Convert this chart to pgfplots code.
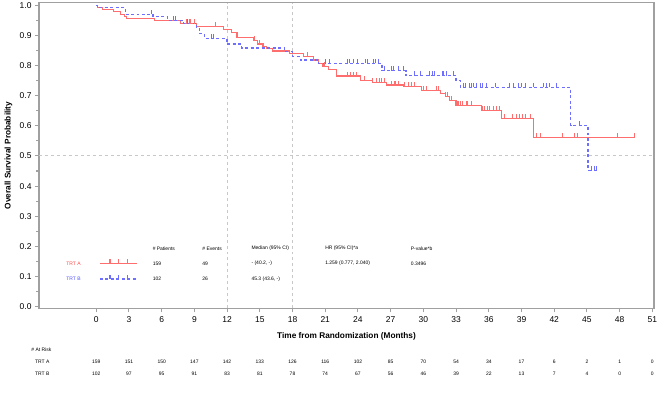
\documentclass[border=0pt]{standalone}
\usepackage{pgfplots}
\pgfplotsset{compat=1.18}
\usepackage{fontspec}
\setmainfont{Liberation Sans}
\definecolor{kmred}{RGB}{255,110,110}
\definecolor{kmblue}{RGB}{110,110,255}
\definecolor{txtred}{RGB}{255,70,70}
\definecolor{txtblue}{RGB}{80,80,255}
\definecolor{framegray}{RGB}{160,160,160}
\definecolor{refgray}{RGB}{200,200,200}
\pgfdeclareplotmark{cens}{\pgfpathmoveto{\pgfpoint{0pt}{0pt}}\pgfpathlineto{\pgfpoint{0pt}{4.5pt}}\pgfusepathqstroke}
\newcommand{\tinyf}{\fontsize{5}{6}\selectfont}
\begin{document}
\begin{tikzpicture}
\begin{axis}[
  scale only axis,
  width=615bp, height=305.6bp,
  xmin=-5.25, xmax=51.15,
  ymin=-0.005, ymax=1.008,
  clip=false,
  axis line style={framegray, line width=1.1pt},
  xtick={0,3,...,51},
  ytick={0,0.1,...,1.0},
  minor y tick num=1,
  xtick pos=bottom, ytick pos=left,
  tick align=outside,
  major tick length=4bp, minor tick length=2.5bp,
  tick style={framegray, line width=1.1pt},
  /pgf/number format/assume math mode=true,
  yticklabel style={/pgf/number format/fixed, /pgf/number format/fixed zerofill, /pgf/number format/precision=1},
  ticklabel style={font=\fontsize{8.5}{10}\selectfont, text=black},
  xticklabel style={yshift=-1bp},
  xlabel={Time from Randomization (Months)},
  ylabel={Overall Survival Probability},
  xlabel style={at={(axis description cs:0.5,-0.093)}, anchor=center, font=\fontsize{8.3}{10}\selectfont\bfseries},
  ylabel style={at={(axis description cs:-0.0496,0.5)}, anchor=center, font=\fontsize{8.3}{10}\selectfont\bfseries},
]
% reference lines
\addplot[draw=refgray, line width=1.1pt, dash pattern=on 3pt off 3pt] coordinates {(12,-0.005) (12,1.008)};
\addplot[draw=refgray, line width=1.1pt, dash pattern=on 3pt off 3pt] coordinates {(18,-0.005) (18,1.008)};
\addplot[draw=refgray, line width=1.1pt, dash pattern=on 3pt off 3pt] coordinates {(-5.25,0.5) (51.15,0.5)};
% TRT A
\addplot[draw=kmred, line width=1.2pt, const plot, mark=none, solid] coordinates {
(0,1.0)(0.15,0.993)(0.6,0.986)(1.55,0.978)(2.2,0.970)(2.6,0.961)(2.8,0.956)(5.35,0.948)(7.7,0.939)(9.2,0.930)(11.65,0.920)(12.4,0.909)(12.9,0.893)(14.4,0.883)(14.8,0.871)(15.3,0.862)(15.6,0.855)(16.2,0.848)(17.7,0.840)(19.0,0.830)(19.9,0.818)(20.4,0.806)(20.8,0.796)(21.3,0.787)(22.05,0.765)(24.2,0.749)(25.3,0.743)(26.6,0.735)(28.2,0.729)(29.8,0.718)(31.6,0.707)(32.0,0.696)(32.4,0.685)(33.0,0.667)(35.3,0.650)(37.2,0.623)(40.1,0.561)(49.4,0.561)};
\addplot[draw=kmred, line width=1.05pt, only marks, mark=cens] coordinates {
(8.3,0.939)(8.6,0.939)(9.0,0.939)(10.9,0.930)(14.5,0.883)(15.0,0.871)(19.4,0.830)(20.9,0.796)
(23.0,0.765)(23.3,0.765)(23.6,0.765)(23.9,0.765)(24.6,0.749)(25.35,0.743)(25.7,0.743)(25.95,0.743)(26.2,0.743)(26.45,0.743)(27.1,0.735)(27.4,0.735)(27.7,0.735)(28.3,0.729)(28.6,0.729)(28.9,0.729)(29.2,0.729)(30.0,0.718)(30.3,0.718)(31.2,0.718)(31.4,0.718)(32.05,0.696)(32.2,0.696)(32.6,0.685)(33.1,0.667)(33.25,0.667)(33.4,0.667)(33.6,0.667)(34.0,0.667)(34.4,0.667)(35.4,0.650)(35.6,0.650)(35.85,0.650)(36.1,0.650)(36.4,0.650)(36.7,0.650)(37.0,0.650)(37.4,0.623)(38.2,0.623)(38.5,0.623)(38.8,0.623)(39.1,0.623)(39.4,0.623)(39.8,0.623)(40.4,0.561)(40.7,0.561)(42.8,0.561)(43.9,0.561)(44.1,0.561)(47.8,0.561)(49.4,0.561)};
% TRT B
\addplot[draw=kmblue, line width=1.2pt, const plot, mark=none, dash pattern=on 3pt off 2.5pt] coordinates {
(0,1.0)(0.1,0.992)(2.65,0.970)(5.2,0.961)(6.5,0.950)(8.0,0.939)(9.2,0.923)(9.5,0.906)(9.9,0.890)(12.0,0.871)(13.3,0.858)(17.3,0.845)(18.0,0.829)(18.7,0.818)(20.4,0.807)(26.2,0.783)(28.4,0.766)(33.0,0.749)(33.4,0.727)(43.5,0.602)(45.1,0.451)(45.9,0.451)};
\addplot[draw=kmblue, line width=1.05pt, only marks, mark=cens] coordinates {
(5.1,0.970)(7.06,0.950)(7.25,0.950)(8.4,0.939)(10.6,0.890)(10.75,0.890)(21.0,0.807)(21.4,0.807)(23.0,0.807)(23.2,0.807)(23.6,0.807)(24.0,0.807)(24.7,0.807)(24.9,0.807)(25.4,0.807)(25.6,0.807)(25.9,0.807)(26.4,0.783)(27.1,0.783)(27.3,0.783)(27.7,0.783)(28.2,0.783)(29.2,0.766)(29.7,0.766)(30.6,0.766)(30.8,0.766)(31.0,0.766)(31.8,0.766)(32.1,0.766)(32.8,0.766)(33.7,0.727)(33.9,0.727)(34.2,0.727)(34.4,0.727)(34.6,0.727)(34.9,0.727)(35.2,0.727)(35.4,0.727)(35.8,0.727)(36.6,0.727)(37.9,0.727)(38.3,0.727)(38.7,0.727)(39.0,0.727)(39.4,0.727)(40.1,0.727)(41.0,0.727)(41.3,0.727)(41.6,0.727)(42.2,0.727)(44.3,0.602)(45.4,0.451)(45.7,0.451)(45.9,0.451)};
% legend samples
\addplot[draw=kmred, line width=1.2pt, mark=none, solid] coordinates {(0.34,0.1438) (3.76,0.1438)};
\addplot[draw=kmred, line width=1.05pt, only marks, mark=cens] coordinates {(1.26,0.1438)(2.02,0.1438)(2.88,0.1438)};
\addplot[draw=kmblue, line width=1.2pt, mark=none, dash pattern=on 3pt off 2.5pt] coordinates {(0.34,0.0918) (3.76,0.0918)};
\addplot[draw=kmblue, line width=1.05pt, only marks, mark=cens] coordinates {(1.26,0.0918)(2.02,0.0918)(2.88,0.0918)};
% stats table
\node[anchor=west, font=\tinyf] at (axis cs:4.86,0.1936) {\# Patients};
\node[anchor=west, font=\tinyf] at (axis cs:9.42,0.1936) {\# Events};
\node[anchor=west, font=\tinyf] at (axis cs:13.92,0.1936) {Median (95\% CI)};
\node[anchor=west, font=\tinyf] at (axis cs:20.68,0.1936) {HR (95\% CI)*a};
\node[anchor=west, font=\tinyf] at (axis cs:28.53,0.1936) {P-value*b};
\node[anchor=west, font=\tinyf, text=txtred] at (axis cs:-3.06,0.1438) {TRT A};
\node[anchor=west, font=\tinyf] at (axis cs:4.86,0.1438) {159};
\node[anchor=west, font=\tinyf] at (axis cs:9.42,0.1438) {49};
\node[anchor=west, font=\tinyf] at (axis cs:13.92,0.1438) {- (40.2, -)};
\node[anchor=west, font=\tinyf] at (axis cs:20.68,0.1438) {1.259 (0.777, 2.040)};
\node[anchor=west, font=\tinyf] at (axis cs:28.53,0.1438) {0.3496};
\node[anchor=west, font=\tinyf, text=txtblue] at (axis cs:-3.06,0.0918) {TRT B};
\node[anchor=west, font=\tinyf] at (axis cs:4.86,0.0918) {102};
\node[anchor=west, font=\tinyf] at (axis cs:9.42,0.0918) {26};
\node[anchor=west, font=\tinyf] at (axis cs:13.92,0.0918) {45.3 (43.6, -)};
% at risk table
\node[anchor=west, font=\tinyf] at (axis cs:-6.27,-0.1435) {\# At Risk};
\node[anchor=west, font=\tinyf] at (axis cs:-5.93,-0.1823) {TRT A};
\node[anchor=west, font=\tinyf] at (axis cs:-5.93,-0.2221) {TRT B};
\addplot[draw=none, mark=none, nodes near coords, point meta=explicit symbolic,
  every node near coord/.style={anchor=center, font=\tinyf, text=black}] coordinates {
(0,-0.1823)[159] (3,-0.1823)[151] (6,-0.1823)[150] (9,-0.1823)[147] (12,-0.1823)[142] (15,-0.1823)[133] (18,-0.1823)[126] (21,-0.1823)[116] (24,-0.1823)[102] (27,-0.1823)[85] (30,-0.1823)[70] (33,-0.1823)[54] (36,-0.1823)[34] (39,-0.1823)[17] (42,-0.1823)[6] (45,-0.1823)[2] (48,-0.1823)[1] (51,-0.1823)[0]};
\addplot[draw=none, mark=none, nodes near coords, point meta=explicit symbolic,
  every node near coord/.style={anchor=center, font=\tinyf, text=black}] coordinates {
(0,-0.2221)[102] (3,-0.2221)[97] (6,-0.2221)[95] (9,-0.2221)[91] (12,-0.2221)[83] (15,-0.2221)[81] (18,-0.2221)[78] (21,-0.2221)[74] (24,-0.2221)[67] (27,-0.2221)[56] (30,-0.2221)[46] (33,-0.2221)[39] (36,-0.2221)[22] (39,-0.2221)[13] (42,-0.2221)[7] (45,-0.2221)[4] (48,-0.2221)[0] (51,-0.2221)[0]};
\coordinate (bbl) at (rel axis cs:-0.0634,-0.2902);
\coordinate (btr) at (rel axis cs:1.0114,1.0088);
\end{axis}
\pgfresetboundingbox
\path[use as bounding box] (bbl) rectangle (btr);
\end{tikzpicture}
\end{document}
